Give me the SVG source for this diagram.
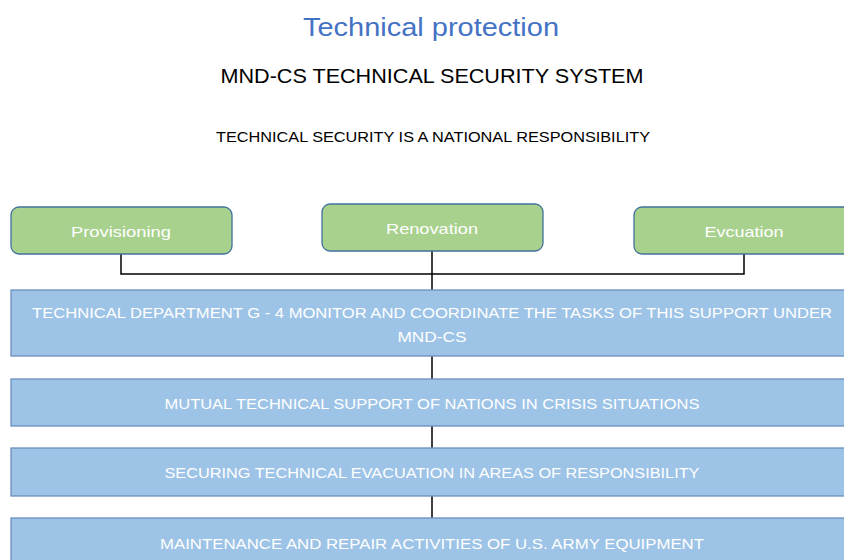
<svg xmlns="http://www.w3.org/2000/svg" width="844" height="560" viewBox="0 0 844 560">
<style>
.t{font-family:"Liberation Sans",Arial,sans-serif;text-anchor:middle}
.g{fill:#A9D18E;stroke:#41719C;stroke-width:1.3}
.b{fill:#9DC3E6;stroke:#6C8EBF;stroke-width:1.3}
.w{fill:#ffffff;font-size:15px}
.c{fill:none;stroke:#000;stroke-width:1.5}
</style>
<rect width="844" height="560" fill="#fff"/>
<text class="t" x="431" y="36" font-size="25" fill="#4472C4" textLength="256" lengthAdjust="spacingAndGlyphs">Technical protection</text>
<text class="t" x="432" y="83" font-size="21" fill="#000" textLength="423" lengthAdjust="spacingAndGlyphs">MND-CS TECHNICAL SECURITY SYSTEM</text>
<text class="t" x="433" y="142" font-size="15" fill="#000" textLength="434" lengthAdjust="spacingAndGlyphs">TECHNICAL SECURITY IS A NATIONAL RESPONSIBILITY</text>
<g id="connectors">
<path class="c" d="M121 254 V274 H744 V254"/>
<path class="c" d="M432 251 V518"/>
</g>
<g id="provisioning"><rect class="g" x="11" y="207" width="221" height="47" rx="8"/><text class="t w" x="121" y="237" font-size="16" textLength="100" lengthAdjust="spacingAndGlyphs">Provisioning</text></g>
<g id="renovation"><rect class="g" x="322" y="204" width="221" height="47" rx="8"/><text class="t w" x="432" y="234" font-size="16" textLength="92" lengthAdjust="spacingAndGlyphs">Renovation</text></g>
<g id="evcuation"><rect class="g" x="634" y="207" width="221" height="47" rx="8"/><text class="t w" x="744" y="237" font-size="16" textLength="79" lengthAdjust="spacingAndGlyphs">Evcuation</text></g>
<g id="box1"><rect class="b" x="11" y="290" width="850" height="66"/><text class="t w" x="432" y="318" textLength="800" lengthAdjust="spacingAndGlyphs">TECHNICAL DEPARTMENT G - 4 MONITOR AND COORDINATE THE TASKS OF THIS SUPPORT UNDER</text><text class="t w" x="432" y="342" textLength="69" lengthAdjust="spacingAndGlyphs">MND-CS</text></g>
<g id="box2"><rect class="b" x="11" y="379" width="850" height="47"/><text class="t w" x="432" y="409" textLength="535" lengthAdjust="spacingAndGlyphs">MUTUAL TECHNICAL SUPPORT OF NATIONS IN CRISIS SITUATIONS</text></g>
<g id="box3"><rect class="b" x="11" y="448" width="850" height="48"/><text class="t w" x="432" y="478" textLength="535" lengthAdjust="spacingAndGlyphs">SECURING TECHNICAL EVACUATION IN AREAS OF RESPONSIBILITY</text></g>
<g id="box4"><rect class="b" x="11" y="518" width="850" height="50"/><text class="t w" x="432" y="549" textLength="544" lengthAdjust="spacingAndGlyphs">MAINTENANCE AND REPAIR ACTIVITIES OF U.S. ARMY EQUIPMENT</text></g>
</svg>
